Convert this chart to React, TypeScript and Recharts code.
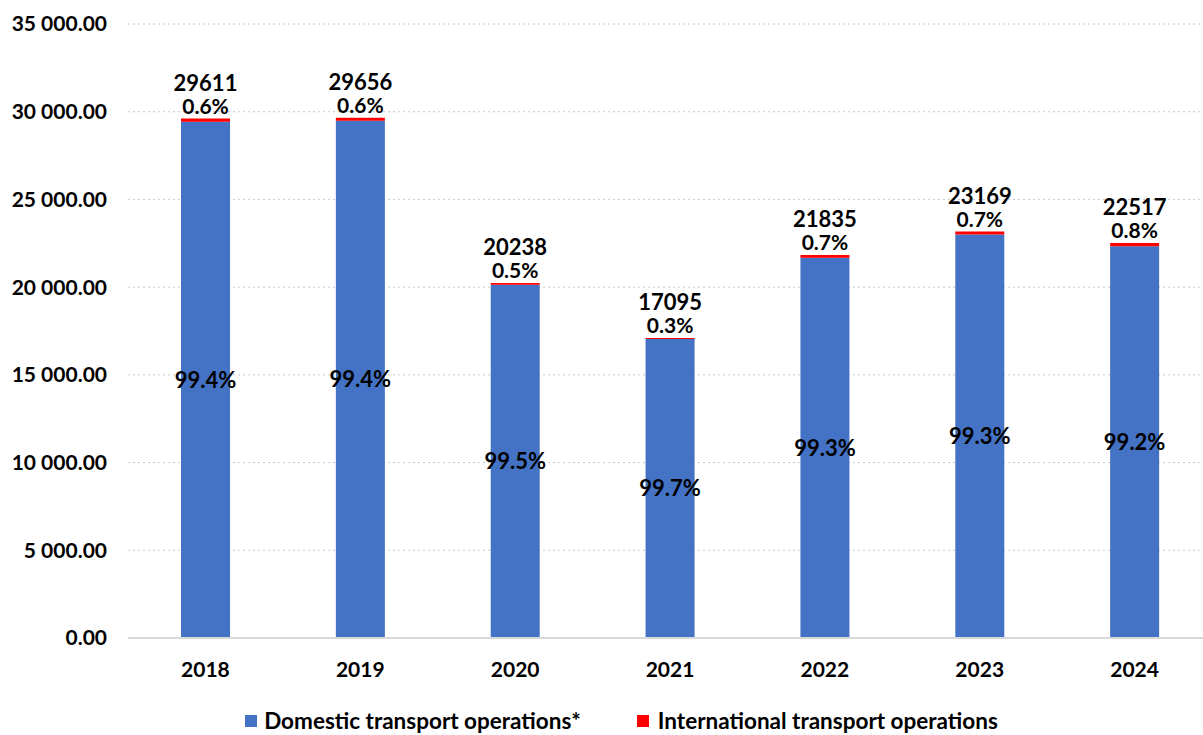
import React from 'react'
import { BarChart, Bar, XAxis, YAxis, CartesianGrid, Legend, LabelList } from 'recharts'

const years = ['2018', '2019', '2020', '2021', '2022', '2023', '2024']
const totals = [29611, 29656, 20238, 17095, 21835, 23169, 22517]
const domesticPct = [99.4, 99.4, 99.5, 99.7, 99.3, 99.3, 99.2]
const internationalPct = [0.6, 0.6, 0.5, 0.3, 0.7, 0.7, 0.8]
const yTicks = [0, 5000, 10000, 15000, 20000, 25000, 30000, 35000]

const data = years.map((year, i) => {
  const international = Math.round((totals[i] * internationalPct[i]) / 100)
  return {
    year,
    domestic: totals[i] - international,
    international,
    total: totals[i],
    domesticLabel: `${domesticPct[i]}%`,
    internationalLabel: `${internationalPct[i]}%`,
  }
})

const FONT = 'Lato, "Open Sans", sans-serif'

const fmtY = (v: number) => {
  const s = v.toFixed(2)
  const [int, dec] = s.split('.')
  return int.replace(/\B(?=(\d{3})+(?!\d))/g, ' ') + '.' + dec
}

const TopLabel = (props: any) => {
  const { x, y, width, index } = props
  const cx = x + width / 2
  const d = data[index]
  return (
    <g fontFamily={FONT} fontWeight={700} fill="#000" textAnchor="middle">
      <text x={cx} y={y - 28} fontSize={22}>{d.total}</text>
      <text x={cx} y={y - 5} fontSize={21}>{d.internationalLabel}</text>
    </g>
  )
}

const LegendContent = () => (
  <div
    style={{
      display: 'flex',
      justifyContent: 'center',
      fontFamily: FONT,
      fontWeight: 700,
      fontSize: 22.5,
      lineHeight: '26px',
      color: '#000',
      paddingLeft: 40,
    }}
  >
    <span style={{ display: 'flex', alignItems: 'center', marginRight: 56 }}>
      <span style={{ width: 12, height: 12, background: '#4472C4', marginRight: 7, display: 'inline-block' }} />
      Domestic transport operations*
    </span>
    <span style={{ display: 'flex', alignItems: 'center' }}>
      <span style={{ width: 12, height: 12, background: '#FF0000', marginRight: 9, display: 'inline-block' }} />
      International transport operations
    </span>
  </div>
)

export default function App() {
  return (
    <div style={{ position: 'fixed', top: 0, left: 0, width: 1203, height: 735, overflow: 'hidden', background: '#fff' }}>
      <BarChart
        width={1220}
        height={735}
        data={data}
        margin={{ top: 24, right: 8, left: 0, bottom: 37 }}
        barSize={49}
      >
        <CartesianGrid vertical={false} stroke="#c8c8c8" strokeDasharray="2 3" />
        <XAxis
          dataKey="year"
          height={60}
          tickLine={false}
          tickSize={0}
          tickMargin={24}
          axisLine={{ stroke: '#d9d9d9', strokeWidth: 2 }}
          tick={{ fontFamily: FONT, fontWeight: 700, fontSize: 21, fill: '#000' }}
        />
        <YAxis
          width={128}
          domain={[0, 35000]}
          ticks={yTicks}
          interval={0}
          tickFormatter={fmtY}
          axisLine={false}
          tickLine={false}
          tickSize={0}
          tickMargin={21}
          tick={{ fontFamily: FONT, fontWeight: 700, fontSize: 21, fill: '#000' }}
        />
        <Legend
          verticalAlign="middle"
          align="center"
          layout="horizontal"
          content={<LegendContent />}
          wrapperStyle={{ top: 708, left: 0, width: 1203, height: 27 }}
        />
        <Bar dataKey="domestic" stackId="a" fill="#4472C4" isAnimationActive={false} name="Domestic transport operations*">
          <LabelList
            dataKey="domesticLabel"
            position="center"
            style={{ fontFamily: FONT, fontWeight: 700, fontSize: 22, fill: '#000' }}
          />
        </Bar>
        <Bar dataKey="international" stackId="a" fill="#FF0000" isAnimationActive={false} name="International transport operations">
          <LabelList dataKey="total" content={<TopLabel />} />
        </Bar>
      </BarChart>
    </div>
  )
}
